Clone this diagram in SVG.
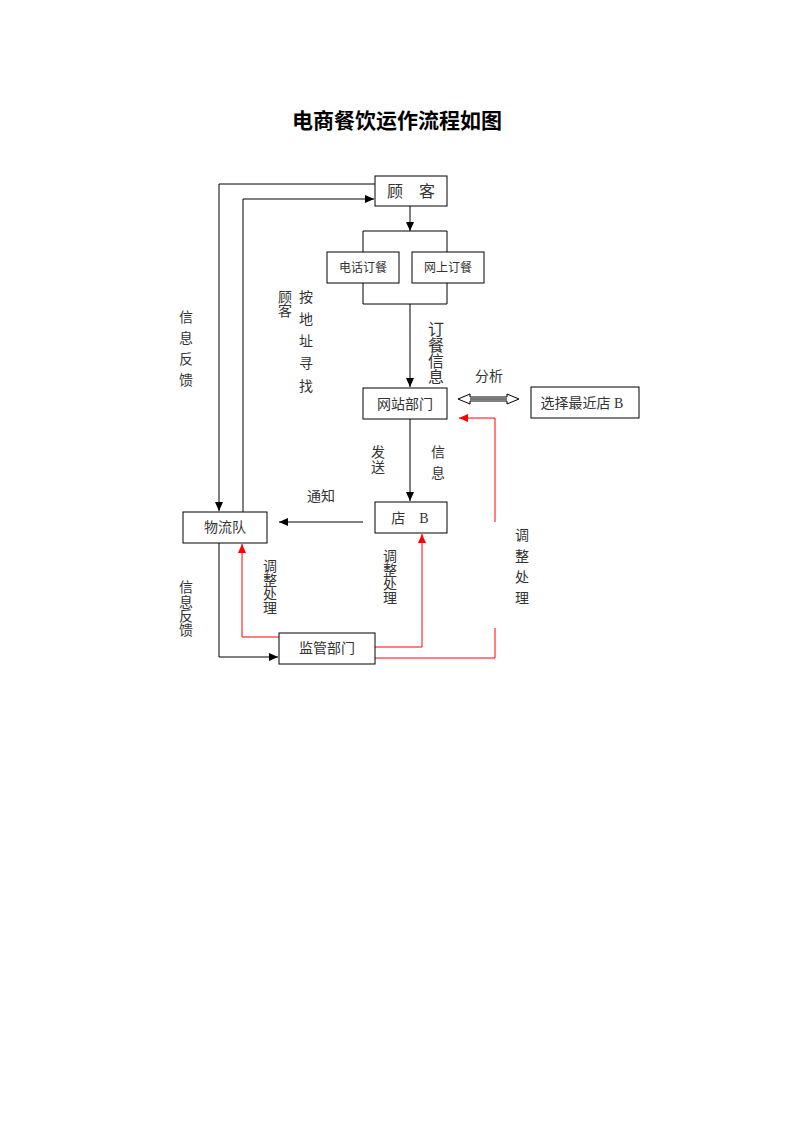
<svg xmlns="http://www.w3.org/2000/svg" width="793" height="1122" viewBox="0 0 793 1122">
<style>
text{font-family:"Liberation Serif","Noto Sans CJK SC",serif;fill:#333;font-size:14px;text-anchor:middle;dominant-baseline:central}
.box{fill:#fff;stroke:#000;stroke-width:1}
.ln{fill:none;stroke:#000;stroke-width:1}
.rd{fill:none;stroke:#f00;stroke-width:1}
.title{font-family:"Liberation Sans","Noto Sans CJK SC",sans-serif;font-weight:bold;font-size:21px;fill:#000}
.sm{font-size:12px}
.big{font-size:16px}
</style>
<defs>
<marker id="ab" markerWidth="10" markerHeight="8" refX="9" refY="4" orient="auto" markerUnits="userSpaceOnUse"><path d="M0,0 L9,4 L0,8 z" fill="#000"/></marker>
<marker id="ar" markerWidth="10" markerHeight="8" refX="9" refY="4" orient="auto" markerUnits="userSpaceOnUse"><path d="M0,0 L9,4 L0,8 z" fill="#f00"/></marker>
</defs>
<rect width="793" height="1122" fill="#fff"/>
<text class="title" x="397" y="120">电商餐饮运作流程如图</text>

<g id="connectors">
<path class="ln" d="M375,184 H219 V511" marker-end="url(#ab)"/>
<path class="ln" d="M243,512 V199 H374" marker-end="url(#ab)"/>
<path class="ln" d="M410,206 V231" marker-end="url(#ab)"/>
<path class="ln" d="M363,252 V231 H447 V252"/>
<path class="ln" d="M363,283 V304 H447 V283"/>
<path class="ln" d="M410,304 V387" marker-end="url(#ab)"/>
<path class="ln" d="M410,419 V501" marker-end="url(#ab)"/>
<path class="ln" d="M363,522 H279" marker-end="url(#ab)"/>
<path class="ln" d="M219,543 V657 H278" marker-end="url(#ab)"/>
<path d="M458,399 L470,394 V397 H507 V394 L519,399 L507,404 V401 H470 V404 Z" fill="#fff" stroke="#000" stroke-width="1"/>
<line x1="470" y1="399" x2="507" y2="399" stroke="#777" stroke-width="2"/>
<path class="rd" d="M279,637 H242 V544" marker-end="url(#ar)"/>
<path class="rd" d="M375,647 H422 V534" marker-end="url(#ar)"/>
<path class="rd" d="M375,658 H495 V628"/>
<path class="rd" d="M495,522 V418 H459" marker-end="url(#ar)"/>
</g>

<g id="n-guke"><rect class="box" x="375" y="176" width="72" height="30"/><text x="411" y="191" class="big">顾　客</text></g>
<g id="n-dianhua"><rect class="box" x="327" y="252" width="72" height="31"/><text x="363" y="268" class="sm">电话订餐</text></g>
<g id="n-wangshang"><rect class="box" x="412" y="252" width="72" height="31"/><text x="448" y="268" class="sm">网上订餐</text></g>
<g id="n-wangzhan"><rect class="box" x="363" y="388" width="84" height="31"/><text x="405" y="404">网站部门</text></g>
<g id="n-xuanze"><rect class="box" x="531" y="387" width="108" height="31"/><text x="582" y="403">选择最近店 B</text></g>
<g id="n-dianb"><rect class="box" x="375" y="502" width="72" height="31"/><text x="410" y="518">店　B</text></g>
<g id="n-wuliu"><rect class="box" x="183" y="512" width="84" height="31"/><text x="225" y="527">物流队</text></g>
<g id="n-jianguan"><rect class="box" x="279" y="633" width="96" height="31"/><text x="327" y="648">监管部门</text></g>

<g id="labels">
<text x="186" y="317">信</text><text x="186" y="338">息</text><text x="186" y="359">反</text><text x="186" y="380">馈</text>
<text x="285" y="297">顾</text><text x="285" y="311">客</text>
<text x="306" y="297">按</text><text x="306" y="319">地</text><text x="306" y="341">址</text><text x="306" y="363">寻</text><text x="306" y="386">找</text>
<text x="436" y="329" class="big">订</text><text x="436" y="345" class="big">餐</text><text x="436" y="361" class="big">信</text><text x="436" y="377" class="big">息</text>
<text x="489" y="376">分析</text>
<text x="378" y="452">发</text><text x="378" y="467">送</text>
<text x="438" y="452">信</text><text x="438" y="473">息</text>
<text x="321" y="496">通知</text>
<text x="186" y="587">信</text><text x="186" y="602">息</text><text x="186" y="616">反</text><text x="186" y="630">馈</text>
<text x="270" y="566">调</text><text x="270" y="580">整</text><text x="270" y="594">处</text><text x="270" y="608">理</text>
<text x="390" y="556">调</text><text x="390" y="570">整</text><text x="390" y="584">处</text><text x="390" y="598">理</text>
<text x="522" y="535">调</text><text x="522" y="556">整</text><text x="522" y="577">处</text><text x="522" y="598">理</text>
</g>
</svg>
